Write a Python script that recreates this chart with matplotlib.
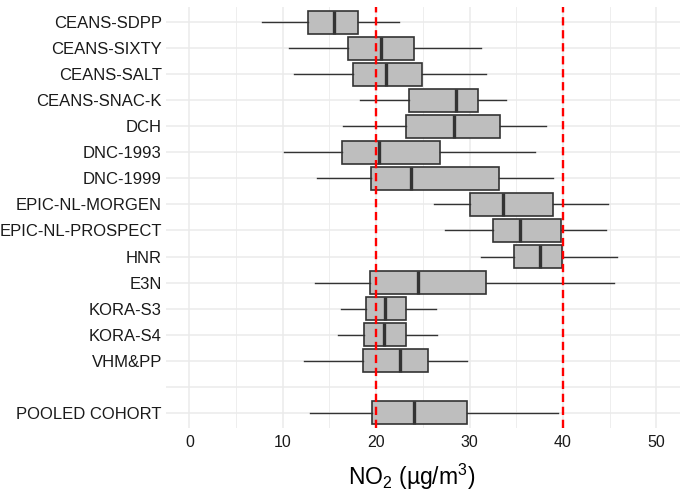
import matplotlib
matplotlib.use("Agg")
import matplotlib.pyplot as plt

plt.rcParams['font.family'] = ['Liberation Sans', 'DejaVu Sans']
plt.rcParams['mathtext.fontset'] = 'custom'
plt.rcParams['mathtext.rm'] = 'Liberation Sans'
plt.rcParams['mathtext.default'] = 'regular'

# cohorts, top to bottom ("" is the empty spacer row)
cohorts = ["CEANS-SDPP", "CEANS-SIXTY", "CEANS-SALT", "CEANS-SNAC-K", "DCH",
           "DNC-1993", "DNC-1999", "EPIC-NL-MORGEN", "EPIC-NL-PROSPECT", "HNR",
           "E3N", "KORA-S3", "KORA-S4", "VHM&PP", "", "POOLED COHORT"]
whis_lo = [7.8, 10.7, 11.2, 18.3, 16.5, 10.1, 13.7, 26.2, 27.4, 31.2,
           13.4, 16.2, 15.9, 12.3, None, 12.9]
q1 = [12.7, 17.0, 17.5, 23.5, 23.2, 16.3, 19.4, 30.0, 32.5, 34.8,
      19.3, 18.9, 18.7, 18.6, None, 19.5]
median = [15.5, 20.5, 21.0, 28.5, 28.3, 20.3, 23.7, 33.6, 35.4, 37.5,
          24.5, 20.9, 20.8, 22.5, None, 24.1]
q3 = [18.1, 24.0, 24.9, 30.9, 33.3, 26.8, 33.2, 38.9, 39.8, 39.9,
      31.8, 23.2, 23.2, 25.6, None, 29.7]
whis_hi = [22.4, 31.2, 31.8, 33.9, 38.2, 37.0, 38.9, 44.8, 44.6, 45.8,
           45.5, 26.4, 26.5, 29.7, None, 39.5]
limit_lines = [20, 40]

stats = []
positions = []
for i, name in enumerate(cohorts):
    if median[i] is None:
        continue
    stats.append(dict(label=name, whislo=whis_lo[i], q1=q1[i], med=median[i],
                      q3=q3[i], whishi=whis_hi[i], fliers=[]))
    positions.append(i)

fig = plt.figure(figsize=(6.88, 4.92), dpi=100)
ax = fig.add_axes([0.2413, 0.1295, 0.7467, 0.857])

ax.bxp(stats, positions=positions, orientation='horizontal', widths=0.88,
       patch_artist=True, showcaps=False, zorder=3,
       boxprops=dict(facecolor='#bebebe', edgecolor='#333333', linewidth=1.2),
       medianprops=dict(color='#333333', linewidth=2.4),
       whiskerprops=dict(color='#333333', linewidth=1.0))

for v in limit_lines:
    ax.axvline(v, color='red', linestyle=(0, (3.5, 2)), linewidth=1.7, zorder=4)

ax.set_xlim(-2.5, 52.5)
ax.set_xticks([0, 10, 20, 30, 40, 50])
ax.set_xticks([5, 15, 25, 35, 45], minor=True)
ax.set_yticks(range(len(cohorts)))
ax.set_yticklabels(cohorts)
ax.set_ylim(len(cohorts) - 0.4, -0.6)

ax.grid(True, which='major', color='#ebebeb', linewidth=1.1, zorder=0)
ax.grid(True, which='minor', axis='x', color='#ebebeb', linewidth=0.6, zorder=0)
ax.set_axisbelow(True)
for s in ax.spines.values():
    s.set_visible(False)
ax.tick_params(which='both', length=0)
ax.tick_params(axis='y', labelsize=12, pad=3, labelcolor='#1a1a1a')
ax.tick_params(axis='x', labelsize=11.5, pad=5, labelcolor='#1a1a1a')
ax.set_xlabel('NO$_2$ (µg/m$^3$)', fontsize=16.5, labelpad=8)
ax.xaxis.label.set_x(0.478)

fig.savefig("out.png", dpi=100)
